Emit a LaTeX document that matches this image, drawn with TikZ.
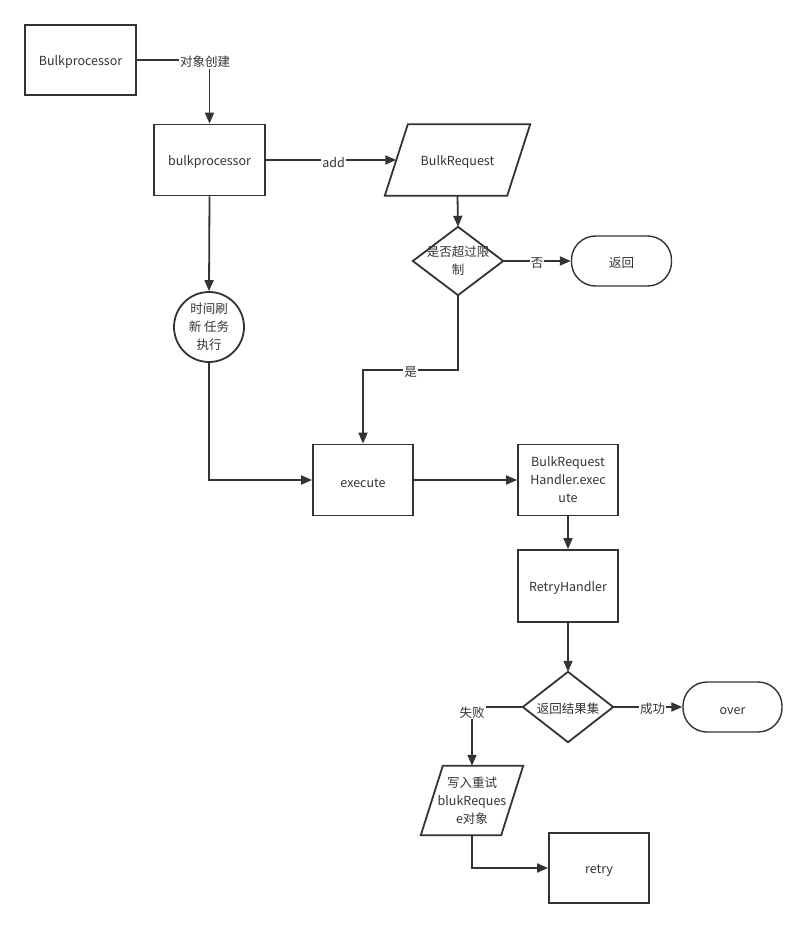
\documentclass[tikz,border=0pt]{standalone}
\usepackage{fontspec}
\setmainfont{Noto Sans CJK SC}
\usetikzlibrary{arrows.meta,calc}
\definecolor{ln}{HTML}{333333}
\begin{document}
\begin{tikzpicture}[x=1pt,y=-1pt,
  every node/.style={font=\fontsize{12.5}{18}\selectfont, text=ln, execute at begin node={\rule{0pt}{14.5pt}}},
  box/.style={draw=ln, line width=1.8pt, minimum width=100pt, minimum height=71pt, inner sep=0pt, align=center},
  term/.style={draw=ln, line width=1.4pt, minimum width=100pt, minimum height=50pt, rounded corners=24pt, inner sep=0pt},
  shp/.style={minimum width=#1, inner sep=0pt, align=center},
  lab/.style={fill=white, inner sep=1pt},
  arr/.style={draw=ln, line width=1.8pt, -{Triangle[length=11pt,width=9pt]}},
  outl/.style={draw=ln, line width=1.8pt, line join=miter}
]
\useasboundingbox (0,0) rectangle (808,928);

\node[box, minimum width=111pt, minimum height=70pt] (bp0) at (80.5,60) {Bulkprocessor};
\node[box, minimum width=111pt, minimum height=71pt] (bp) at (209.5,160) {bulkprocessor};

\node[shp=122pt, minimum height=71pt] (br) at (457.5,160) {BulkRequest};
\draw[outl] ($(br.north west)+(11.5,0)$) -- ($(br.north east)+(11.5,0)$) -- ($(br.south east)+(-11.5,0)$) -- ($(br.south west)+(-11.5,0)$) -- cycle;

\node[shp=90pt, minimum height=68pt] (d1) at (458,261) {是否超过限\\制};
\draw[outl] (d1.north) -- (d1.east) -- (d1.south) -- (d1.west) -- cycle;

\node[term] (ret) at (621.5,261) {返回};

\node[draw=ln, line width=1.8pt, circle, minimum size=70pt, inner sep=0pt, align=center] (tm) at (209,327) {时间刷\\新 任务\\执行};

\node[box] (ex) at (363,480) {execute};
\node[box] (bh) at (568,480) {BulkRequest\\Handler.exec\\ute};
\node[box, minimum height=72pt] (rh) at (568,586) {RetryHandler};

\node[shp=90pt, minimum height=70pt] (d2) at (568,707) {返回结果集};
\draw[outl] (d2.north) -- (d2.east) -- (d2.south) -- (d2.west) -- cycle;

\node[term, minimum width=99pt] (ov) at (732.5,707) {over};

\node[shp=80pt, minimum height=69pt] (wr) at (472,800.5) {写入重试\\blukReques\\e对象};
\draw[outl] ($(wr.north west)+(11,0)$) -- ($(wr.north east)+(11,0)$) -- ($(wr.south east)+(-11,0)$) -- ($(wr.south west)+(-11,0)$) -- cycle;

\node[box, minimum height=70pt] (rt) at (599,868) {retry};

% connectors
\draw[arr] (bp0.east) -| node[lab, pos=0.47] {对象创建} (bp.north);
\draw[arr] (bp.east) -- node[lab, pos=0.52] {add} (br.west);
\draw[arr] (br.south) -- (d1.north);
\draw[arr] (d1.east) -- node[lab] {否} (ret.west);
\draw[arr] (d1.south) -- ++(0,75) -| node[lab, pos=0.25] {是} (ex.north);
\draw[arr] (bp.south) -- (tm.north);
\draw[arr] (tm.south) |- (ex.west);
\draw[arr] (ex.east) -- (bh.west);
\draw[arr] (bh.south) -- (rh.north);
\draw[arr] (rh.south) -- (d2.north);
\draw[arr] (d2.east) -- node[lab, pos=0.57] {成功} (ov.west);
\draw[arr] (d2.west) -| node[lab, pos=0.53] {失败} (wr.north);
\draw[arr] (wr.south) |- (rt.west);
\end{tikzpicture}
\end{document}
